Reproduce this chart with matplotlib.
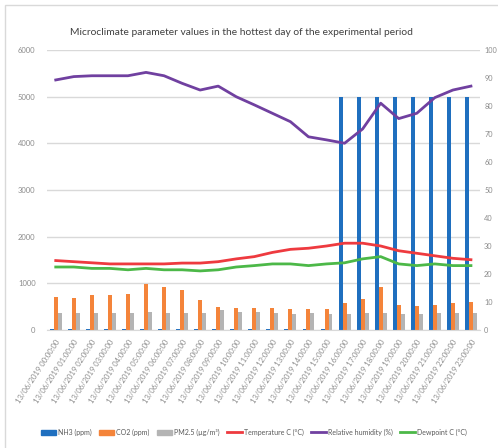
import matplotlib
matplotlib.use("Agg")
import matplotlib.pyplot as plt
import numpy as np
from matplotlib.patches import Rectangle
from matplotlib.lines import Line2D
from matplotlib.patches import Patch

plt.rcParams['font.family'] = ['Lato', 'DejaVu Sans']

hours = [f"13/06/2019 {h:02d}:00:00" for h in range(24)]
nh3 = [20]*16 + [5000]*8
co2 = [707, 685, 743, 743, 764, 978, 921, 850, 636, 500, 471, 464,
       464, 443, 443, 443, 571, 657, 921, 543, 521, 543, 571, 600]
pm25 = [357, 357, 357, 357, 357, 393, 357, 357, 357, 428, 385, 385,
        357, 343, 357, 343, 343, 357, 357, 343, 343, 357, 357, 357]
temp = [24.8, 24.4, 24.0, 23.6, 23.6, 23.6, 23.6, 23.9, 23.9, 24.4, 25.4, 26.2,
        27.7, 28.8, 29.2, 30.0, 31.0, 31.0, 30.0, 28.3, 27.4, 26.5, 25.6, 25.1]
humid = [89.3, 90.5, 90.8, 90.8, 90.8, 92.0, 90.8, 88.1, 85.7, 87.1, 83.3, 80.4,
         77.4, 74.4, 69.0, 67.9, 66.7, 71.8, 81.0, 75.5, 77.4, 83.0, 85.7, 87.1]
dew = [22.5, 22.5, 22.0, 22.0, 21.5, 22.0, 21.5, 21.5, 21.1, 21.5, 22.5, 23.0,
       23.6, 23.6, 23.0, 23.6, 24.0, 25.4, 26.2, 23.6, 23.0, 23.6, 23.0, 23.0]

c_nh3 = "#1F6FBF"
c_co2 = "#F4843A"
c_pm = "#B4B4B4"
c_temp = "#EE3A3F"
c_hum = "#7040A0"
c_dew = "#4CB848"
tick_c = "#8C8C8C"

fig = plt.figure(figsize=(4.98, 4.48), dpi=100)
fig.patches.append(Rectangle((5/498, -0.05), 1.1, 1 - 5/448 + 0.05, transform=fig.transFigure,
                             fill=False, edgecolor="#D9D9D9", linewidth=1.0))
ax = fig.add_axes([0.0938, 0.2634, 0.870, 0.625])
x = np.arange(len(hours))
w = 0.22
ax.bar(x - w, nh3, width=w, color=c_nh3, zorder=2)
ax.bar(x, co2, width=w, color=c_co2, zorder=2)
ax.bar(x + w, pm25, width=w, color=c_pm, zorder=2)
ax.set_ylim(0, 6000)
ax.set_xlim(-0.5, 23.5)
ax.set_yticks(range(0, 6001, 1000))
ax.yaxis.grid(True, color="#D9D9D9", linewidth=1.0, zorder=0)
ax.set_axisbelow(True)
for s in ["top", "left", "right"]:
    ax.spines[s].set_visible(False)
ax.spines["bottom"].set_color("#D9D9D9")
ax.tick_params(axis="y", length=0, labelsize=5.5, labelcolor=tick_c, pad=8)
ax.set_xticks(x)
ax.set_xticklabels(hours, rotation=57, ha="right", rotation_mode="anchor",
                   fontsize=5.5, color=tick_c)
ax.tick_params(axis="x", length=0, pad=6)

ax2 = ax.twinx()
ax2.plot(x, temp, color=c_temp, linewidth=2)
ax2.plot(x, humid, color=c_hum, linewidth=2)
ax2.plot(x, dew, color=c_dew, linewidth=2)
ax2.set_ylim(0, 100)
ax2.set_yticks(range(0, 101, 10))
for s in ["top", "left", "right", "bottom"]:
    ax2.spines[s].set_visible(False)
ax2.tick_params(axis="y", length=0, labelsize=5.3, labelcolor=tick_c, pad=3)

fig.text(0.484, 0.928, "Microclimate parameter values in the hottest day of the experimental period",
         ha="center", va="center", fontsize=7.4, color="#404040")

handles = [Patch(color=c_nh3), Patch(color=c_co2), Patch(color=c_pm),
           Line2D([], [], color=c_temp, lw=2), Line2D([], [], color=c_hum, lw=2),
           Line2D([], [], color=c_dew, lw=2)]
labels = ["NH3 (ppm)", "CO2 (ppm)", "PM2.5 (µg/m³)", "Temperature C (°C)",
          "Relative humidity (%)", "Dewpoint C (°C)"]
fig.legend(handles, labels, loc="center", bbox_to_anchor=(0.51, 0.035), ncol=6,
           frameon=False, fontsize=5.0, handlelength=2.2, handleheight=0.8,
           columnspacing=1.0, handletextpad=0.3, labelcolor="#595959")

fig.savefig("out.png", dpi=100)
